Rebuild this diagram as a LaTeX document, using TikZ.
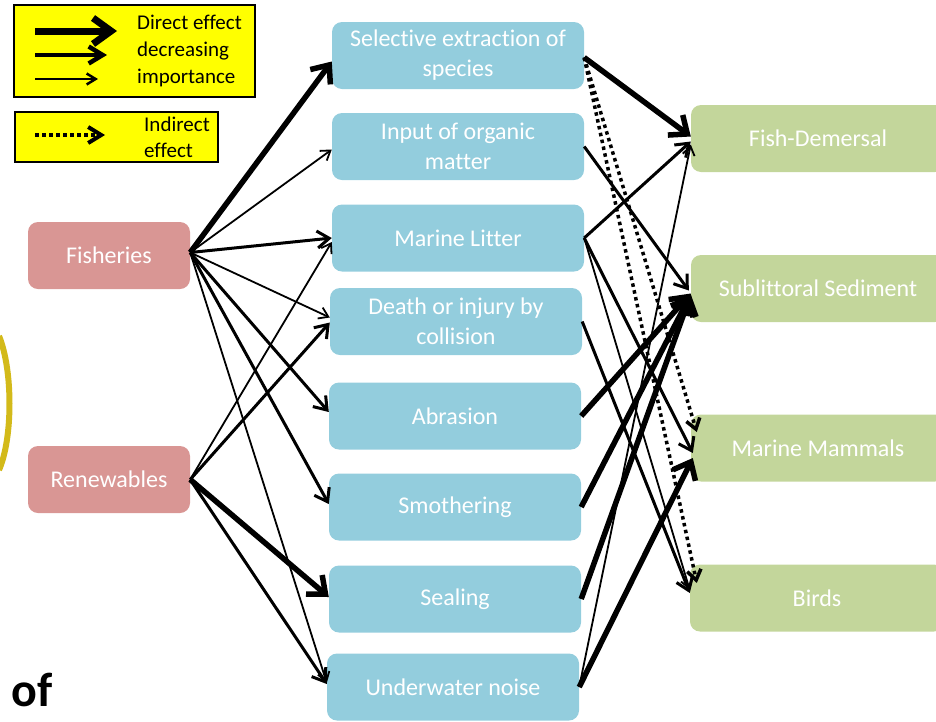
\documentclass[tikz,border=0pt]{standalone}
\usepackage{fontspec}
\setmainfont{Carlito}[Ligatures=NoCommon]
\usetikzlibrary{arrows.meta}
\definecolor{pinkc}{HTML}{D99694}
\definecolor{bluec}{HTML}{93CDDD}
\definecolor{greenc}{HTML}{C3D69B}
\definecolor{legy}{HTML}{FFFF00}
\definecolor{goldc}{HTML}{D3BA1A}
\begin{document}
\begin{tikzpicture}[x=1pt,y=-1pt,
  box/.style={rectangle, rounded corners=10pt, text=white, align=center,
    font=\fontsize{24}{30}\selectfont, inner sep=0pt},
  lbox/.style={box, fill=pinkc, minimum width=162pt, minimum height=67pt},
  mbox/.style={box, fill=bluec, minimum width=252pt, minimum height=67pt},
  rbox/.style={box, fill=greenc, minimum width=254pt, minimum height=67pt},
  wA/.style={line width=1.8pt, -{Straight Barb[length=9pt,width=12pt]}},
  wB/.style={line width=3pt, -{Straight Barb[length=12pt,width=17pt]}},
  wC/.style={line width=5.5pt, -{Straight Barb[length=15pt,width=25pt]}},
  dotarr/.style={line width=3.5pt, dash pattern=on 3.5pt off 3.5pt,
    -{Straight Barb[length=10pt,width=14pt]}},
  legbox/.style={rectangle, draw=black, line width=2pt, fill=legy, inner sep=0pt},
  legtext/.style={anchor=west, align=left, inner sep=0pt, text=black}
]
\useasboundingbox (0,0) rectangle (936,721);
\clip (0,0) rectangle (936,721);

% yellow arc at the left edge
\draw[goldc, line width=6pt] (-1,336) .. controls (13,370) and (13,438) .. (-1,470);

% legend
\node[legbox, minimum width=241pt, minimum height=92pt] (leg1) at (134.5,51) {};
\coordinate (l1s) at (35,31);  \coordinate (l1e) at (117,31);
\coordinate (l2s) at (35,55);  \coordinate (l2e) at (107,55);
\coordinate (l3s) at (35,79);  \coordinate (l3e) at (98,79);
\draw[line width=7pt, -{Straight Barb[length=18pt,width=26pt]}] (l1s) -- (l1e);
\draw[line width=4.5pt, -{Straight Barb[length=14pt,width=17pt]}] (l2s) -- (l2e);
\draw[line width=2.5pt, -{Straight Barb[length=9pt,width=11pt]}] (l3s) -- (l3e);
\node[legtext, font=\fontsize{21}{27}\selectfont] (legt1) at (137,51) {Direct effect\\decreasing\\importance};

\node[legbox, minimum width=203pt, minimum height=50pt] (leg2) at (116.5,137) {};
\coordinate (l4s) at (35,135); \coordinate (l4e) at (105,135);
\draw[line width=4pt, dash pattern=on 4pt off 3pt, -{Straight Barb[length=13pt,width=16pt]}] (l4s) -- (l4e);
\node[legtext, font=\fontsize{21}{26}\selectfont] (legt2) at (144,137) {Indirect\\effect};

% left nodes
\node[lbox] (fish) at (109,255.5) {Fisheries};
\node[lbox] (ren) at (109,479.5) {Renewables};

% middle nodes
\node[mbox] (sel) at (458,55.5) {Selective extraction of\\species};
\node[mbox] (inp) at (458,146.5) {Input of organic\\matter};
\node[mbox] (lit) at (458,238) {Marine Litter};
\node[mbox] (dea) at (456,321.5) {Death or injury by\\collision};
\node[mbox] (abr) at (455,416) {Abrasion};
\node[mbox] (smo) at (455,507) {Smothering};
\node[mbox] (sea) at (455,599) {Sealing};
\node[mbox] (und) at (453,687) {Underwater noise};

% right nodes
\node[rbox] (fd) at (818,138.5) {Fish-Demersal};
\node[rbox] (ss) at (818,288.5) {Sublittoral Sediment};
\node[rbox] (mm) at (818,448) {Marine Mammals};
\node[rbox] (bir) at (817,598) {Birds};

% Fisheries
\draw[wC] ([yshift=3pt]fish.east) -- ([yshift=-6pt]sel.west);
\draw[wA] ([yshift=3pt]fish.east) -- ([yshift=-3pt]inp.west);
\draw[wB] ([yshift=3pt]fish.east) -- (lit.west);
\draw[wA] ([yshift=3pt]fish.east) -- ([yshift=4pt]dea.west);
\draw[wB] ([yshift=3pt]fish.east) -- ([yshift=4pt]abr.west);
\draw[wB] ([yshift=3pt]fish.east) -- ([yshift=3pt]smo.west);
\draw[wA] ([yshift=3pt]fish.east) -- ([yshift=4pt]und.west);

% Renewables
\draw[wA] (ren.east) -- ([yshift=-4pt]lit.west);
\draw[wB] (ren.east) -- ([yshift=-1pt]dea.west);
\draw[wC] (ren.east) -- ([yshift=2pt]sea.west);
\draw[wB] (ren.east) -- ([yshift=3pt]und.west);

% pressures to receptors
\draw[wC] ([yshift=-2pt]sel.east) -- ([yshift=2pt]fd.west);
\draw[dotarr] ([yshift=-2pt]sel.east) -- ([xshift=6pt,yshift=16pt]mm.west);
\draw[dotarr] ([yshift=-2pt]sel.east) -- ([xshift=7pt,yshift=15pt]bir.west);
\draw[wB] (inp.east) -- ([xshift=-2pt,yshift=-2pt]ss.west);
\draw[wB] (lit.east) -- ([yshift=-3pt]fd.west);
\draw[wB] (lit.east) -- ([xshift=2pt,yshift=-5pt]mm.west);
\draw[wA] (lit.east) -- ([yshift=8pt]bir.west);
\draw[wB] (dea.east) -- ([yshift=5pt]bir.west);
\draw[wC] (abr.east) -- ([yshift=-5pt]ss.west);
\draw[wC] (smo.east) -- ([yshift=-6pt]ss.west);
\draw[wC] (sea.east) -- ([yshift=-6pt]ss.west);
\draw[wA] (und.east) -- ([yshift=-6pt]fd.west);
\draw[wC] (und.east) -- ([xshift=2pt,yshift=-10pt]mm.west);

% cut-off title fragment
\node[anchor=base west, inner sep=0pt, font=\bfseries\fontsize{48}{48}\selectfont] (oftext) at (11,706) {of};
\end{tikzpicture}
\end{document}
